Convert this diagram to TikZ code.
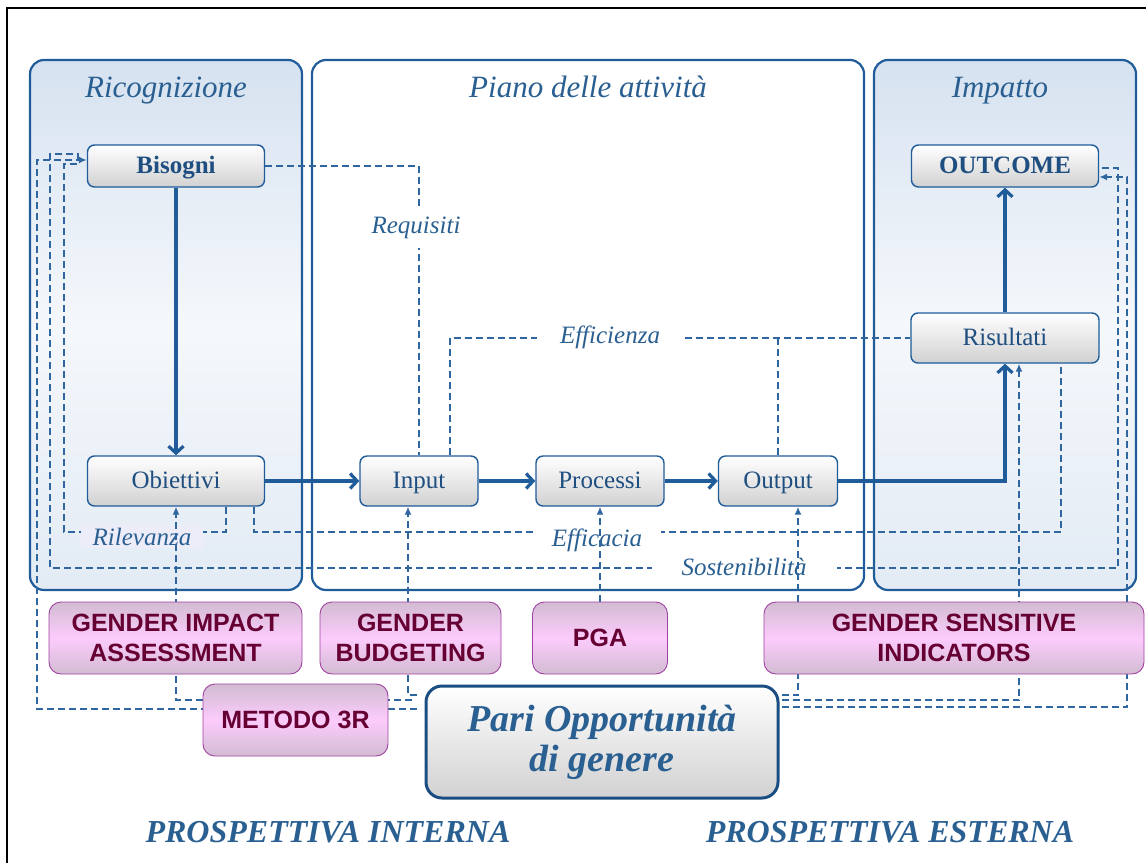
\documentclass[tikz,border=0pt]{standalone}
\usepackage{fontspec}
\setmainfont{Liberation Serif}
\newfontfamily\pinkfont{Liberation Sans}
\usetikzlibrary{arrows.meta,backgrounds}
\definecolor{pblue}{HTML}{1F5C99}
\definecolor{tblue}{HTML}{2A5F91}
\definecolor{nblue}{HTML}{1F4E80}
\definecolor{dblue}{HTML}{2F66A0}
\definecolor{panelblue}{HTML}{D6E2F0}
\definecolor{pinkfill}{HTML}{FCCBFC}
\definecolor{pinkedge}{HTML}{D2BCD2}
\definecolor{pinkline}{HTML}{A040A0}
\definecolor{maroon}{HTML}{660033}
\definecolor{rilfill}{HTML}{EDEDFA}
\begin{document}
\begin{tikzpicture}[x=1pt,y=-1pt,>=Latex,
    panel/.style={draw=pblue,line width=2.2pt,rounded corners=14pt,inner sep=0pt,minimum height=530pt},
    shadepanel/.style={panel,top color=panelblue,bottom color=panelblue!70!white,middle color=panelblue!25!white},
    title/.style={text=tblue,font=\fontsize{31}{34}\selectfont\itshape,anchor=base},
    box/.style={draw=pblue,line width=1.4pt,rounded corners=7pt,top color=white,bottom color=black!18,text=nblue,font=\fontsize{25}{28}\selectfont,text height=20pt,text depth=5pt,minimum height=50pt},
    pinkbox/.style={draw=pinkline,line width=0.9pt,rounded corners=12pt,top color=pinkedge,bottom color=pinkedge,middle color=pinkfill,text=maroon,font=\pinkfont\bfseries\fontsize{25}{30}\selectfont,align=center,minimum height=72pt},
    lbl/.style={text=tblue,font=\fontsize{25}{28}\selectfont\itshape,fill=white,anchor=base,inner ysep=3pt},
    dline/.style={draw=dblue,line width=1.8pt,dash pattern=on 7pt off 4pt},
    darr/.style={dline,-{Latex[length=8pt,width=7pt]}},
    sarr/.style={draw=pblue,line width=3.2pt,-{Straight Barb[length=7pt,width=15pt]}}]
    \useasboundingbox (0,0) rectangle (1146,863);
    \draw[line width=2pt] (7,863) -- (7,8) -- (1146,8);
    \begin{scope}[on background layer]
      \node[shadepanel,minimum width=272pt] (ric) at (166,325) {};
      \node[panel,fill=white,minimum width=552pt] (piano) at (588,325) {};
      \node[shadepanel,minimum width=262pt] (imp) at (1005,325) {};
    \end{scope}
    \node[title] (ricT) at (166,97) {Ricognizione};
    \node[title] (pianoT) at (588,97) {Piano delle attività};
    \node[title] (impT) at (1000,97) {Impatto};

    \node[box,font=\fontsize{25}{28}\selectfont\bfseries,minimum width=177pt,minimum height=42pt] (bis) at (176,166) {Bisogni};
    \node[box,minimum width=177pt] (obi) at (176,481) {Obiettivi};
    \node[box,minimum width=118pt] (inp) at (419,481) {Input};
    \node[box,minimum width=128pt] (pro) at (600,481) {Processi};
    \node[box,minimum width=119pt] (out) at (778,481) {Output};
    \node[box,minimum width=188pt] (ris) at (1005,338) {Risultati};
    \node[box,font=\fontsize{25}{28}\selectfont\bfseries,minimum width=187pt,minimum height=42pt] (outc) at (1005,166) {OUTCOME};

    \node[pinkbox,minimum width=253pt] (gia) at (175.5,638) {GENDER IMPACT\\ASSESSMENT};
    \node[pinkbox,minimum width=181pt] (gb) at (410.5,638) {GENDER\\BUDGETING};
    \node[pinkbox,minimum width=135pt] (pga) at (600,638) {PGA};
    \node[pinkbox,minimum width=380pt] (gsi) at (954,638) {GENDER SENSITIVE\\INDICATORS};
    \node[pinkbox,minimum width=185pt] (m3r) at (295.5,720) {METODO 3R};
    \node[draw=pblue!85!black,line width=3pt,rounded corners=16pt,top color=white,bottom color=black!18,text=tblue,font=\fontsize{38}{40}\selectfont\bfseries\itshape,align=center,minimum width=352pt,minimum height=112pt] (po) at (602,742) {Pari Opportunità\\di genere};

    \node[text=tblue,font=\fontsize{32}{34}\selectfont\bfseries\itshape,anchor=base] (pint) at (328,842) {PROSPETTIVA INTERNA};
    \node[text=tblue,font=\fontsize{32}{34}\selectfont\bfseries\itshape,anchor=base] (pest) at (890,842) {PROSPETTIVA ESTERNA};

    \begin{scope}[on background layer]
      \draw[dline] (bis.east) -| (inp.north);
      \node[lbl,inner ysep=10pt,inner xsep=2pt] (req) at (416,233) {Requisiti};
      \draw[dline] ([xshift=31pt]inp.north) |- (ris.west);
      \draw[dline] (out.north) -- (out.north |- ris.west);
      \node[lbl,inner xsep=23pt] (effz) at (610,343) {Efficienza};
      \draw[dline] ([xshift=78pt]obi.south) -- ++(0,25) -| ([xshift=56pt]ris.south);
      \node[lbl,inner xsep=19pt] (effc) at (597,546) {Efficacia};
      \draw[dline] ([xshift=50pt]obi.south) -- ++(0,25) -| (64,164) -- ([xshift=-9pt,yshift=2pt]bis.west);
      \node[lbl,fill=rilfill,inner xsep=12pt] (ril) at (142,545) {Rilevanza};
      \draw[dline] ([xshift=-9pt,yshift=6pt]bis.west) -- ++(0,-6) -| (50,568) -| (1118,168) -- ([yshift=-2pt]outc.east);
      \node[lbl,inner xsep=30pt] (sost) at (744,575) {Sostenibilità};

      \draw[darr] ([xshift=-8pt,yshift=33pt]po.west) -| ([xshift=-50pt,yshift=6pt]bis.west) -- ([yshift=6pt]bis.west);
      \draw[darr] ([xshift=-13pt,yshift=42pt]po.west) -| (obi.south);
      \draw[darr] ([xshift=-8pt,yshift=47pt]po.west) -| ([xshift=-11pt]inp.south);
      \draw[darr] (pga.north) -- (pro.south);
      \draw[darr] ([xshift=2pt,yshift=47pt]po.east) -| ([xshift=20pt]out.south);
      \draw[darr] ([xshift=2pt,yshift=42pt]po.east) -| ([xshift=14pt]ris.south);
      \draw[darr] ([xshift=2pt,yshift=35pt]po.east) -| ([xshift=28pt,yshift=-11pt]outc.east) -- ([yshift=-11pt]outc.east);

      \draw[sarr] (bis) -- (obi);
      \draw[sarr] (obi) -- (inp);
      \draw[sarr] (inp) -- (pro);
      \draw[sarr] (pro) -- (out);
      \draw[sarr] (out.east) -| (ris.south);
      \draw[sarr] (ris) -- (outc);
    \end{scope}
\end{tikzpicture}
\end{document}
